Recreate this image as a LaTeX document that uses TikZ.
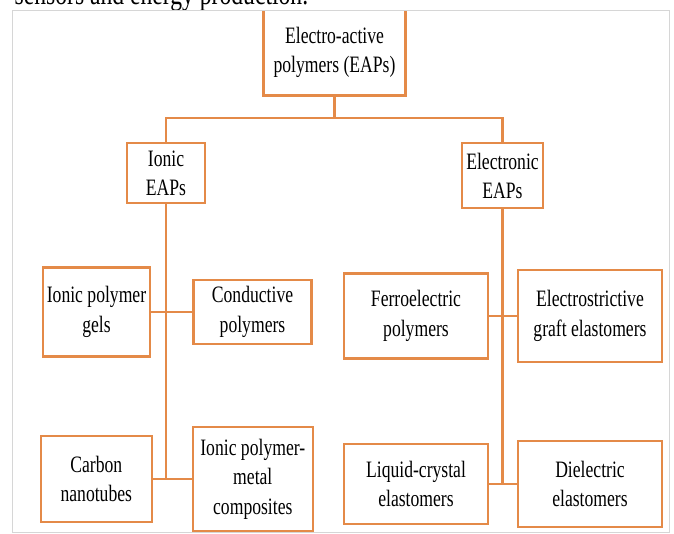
\documentclass[tikz,border=0pt]{standalone}
\usepackage{fontspec}
\setmainfont{Liberation Serif}[FakeStretch=0.75]
\definecolor{eaporange}{RGB}{228,138,72}
\definecolor{framegray}{RGB}{214,214,214}
\begin{document}
\begin{tikzpicture}[x=1pt,y=-1pt,
  bx/.style={draw=eaporange, line width=2.2pt, fill=white, inner sep=0pt, align=center,
             font=\fontsize{23.5}{29.5}\selectfont},
  ln/.style={draw=eaporange, line width=2.2pt}]
\useasboundingbox (0,0) rectangle (674,534);
\node[anchor=base west, inner sep=0pt, font=\fontsize{31.5}{34}\selectfont] (cap) at (14.5,4.5) {sensors and energy production.};
\begin{scope}
\clip (12.5,11.2) rectangle (669,532.5);
\node[bx, minimum width=142pt, minimum height=86pt] (root) at (334.5,52.5) {Electro-active\\polymers (EAPs)};
\node[bx, minimum width=78pt, minimum height=60pt] (ionic) at (166,173.3) {Ionic\\EAPs};
\node[bx, minimum width=81pt, minimum height=65pt] (electronic) at (502.5,175.8) {Electronic\\EAPs};
\node[bx, minimum width=107pt, minimum height=89pt] (ipg) at (96.5,312) {Ionic polymer\\gels};
\node[bx, minimum width=118pt, minimum height=64pt] (cond) at (252.5,312) {Conductive\\polymers};
\node[bx, minimum width=111pt, minimum height=86pt] (cnt) at (96.3,479) {Carbon\\nanotubes};
\node[bx, minimum width=120pt, minimum height=104pt] (ipmc) at (252.8,479) {Ionic polymer-\\metal\\composites};
\node[bx, minimum width=144pt, minimum height=85pt] (ferro) at (416,316) {Ferroelectric\\polymers};
\node[bx, minimum width=144pt, minimum height=92pt] (electro) at (590,316) {Electrostrictive\\graft elastomers};
\node[bx, minimum width=144pt, minimum height=80pt] (lcr) at (416,484) {Liquid-crystal\\elastomers};
\node[bx, minimum width=144pt, minimum height=86pt] (diel) at (590,484) {Dielectric\\elastomers};
\coordinate (bar) at (334.5,118);
\draw[ln] (root.south) -- (bar);
\draw[ln] (ionic.north) |- (bar) -| (electronic.north);
\draw[ln] (ionic.south) -- (ionic.south |- cnt.east);
\draw[ln] (ipg.east) -- (cond.west);
\draw[ln] (cnt.east) -- (ipmc.west);
\draw[ln] (electronic.south) -- (electronic.south |- lcr.east);
\draw[ln] (ferro.east) -- (electro.west);
\draw[ln] (lcr.east) -- (diel.west);
\end{scope}
\draw[framegray, line width=1.2pt] (12.5,10.5) rectangle (669.5,532.5);
\end{tikzpicture}
\end{document}
